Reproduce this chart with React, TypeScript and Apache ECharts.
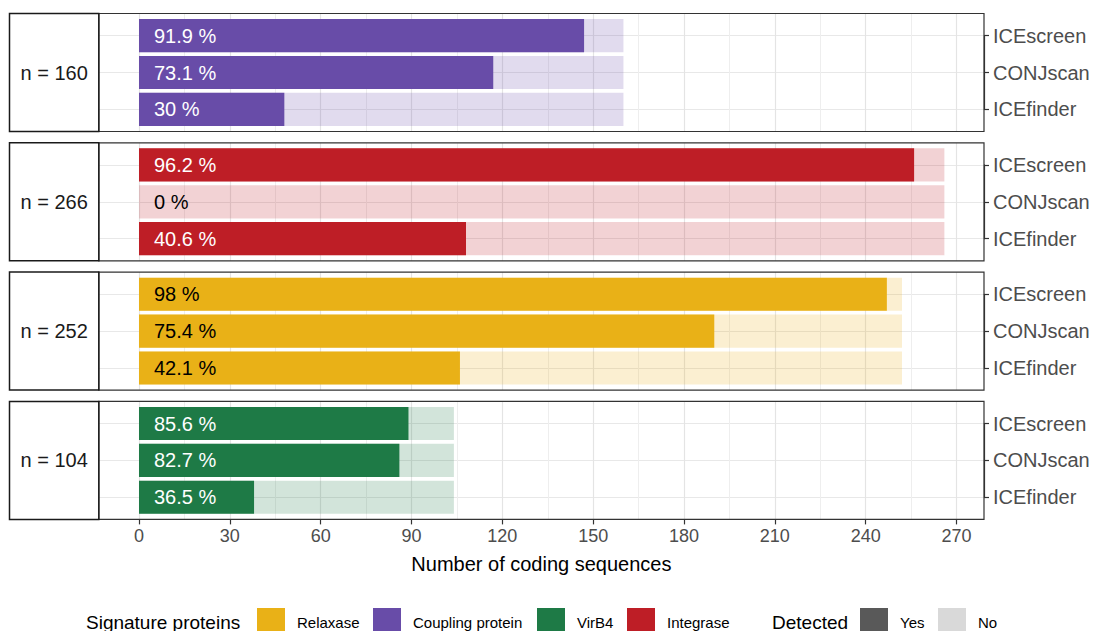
import React, { useEffect, useRef } from "react";
import * as echarts from "echarts";

// ---------------- data ----------------
const tools = ["ICEscreen", "CONJscan", "ICEfinder"];
const panelProteins = ["Coupling protein", "Integrase", "Relaxase", "VirB4"];
const panelTotals = [160, 266, 252, 104];
const couplingDetected = [147, 117, 48];
const integraseDetected = [256, 0, 108];
const relaxaseDetected = [247, 190, 106];
const virb4Detected = [89, 86, 38];
const panelDetected = [couplingDetected, integraseDetected, relaxaseDetected, virb4Detected];

const xAxisMin = 0;
const xAxisMax = 270;
const xAxisStep = 30;
const xAxisTitle = "Number of coding sequences";

const legendProteinTitle = "Signature proteins";
const legendProteins = ["Relaxase", "Coupling protein", "VirB4", "Integrase"];
const legendDetectedTitle = "Detected";
const detectedLevels = ["Yes", "No"];

// ---------------- styles ----------------
const proteinColors: Record<string, string> = {
  Relaxase: "#e9b117",
  "Coupling protein": "#684ca8",
  VirB4: "#1e7a46",
  Integrase: "#be1e26",
};
const detectedColors: Record<string, string> = { Yes: "#595959", No: "#d9d9d9" };
const darkLabelProteins = ["Relaxase"];
const FONT = '"Liberation Sans", Arial, Helvetica, sans-serif';

const PANEL_TOP0 = 13.5;
const PANEL_STEP = 129.3;
const PANEL_H = 118;
const PANEL_L = 98.8;
const PANEL_R = 984;
const X0 = 139;
const X270 = 956.5;
const STRIP_L = 9.5;

function pctLabel(v: number, n: number) {
  const p = Math.round((v / n) * 1000) / 10;
  return `${p} %`;
}

function buildOption() {
  const pxPerUnit = (X270 - X0) / (xAxisMax - xAxisMin);
  const aMin = -(X0 - PANEL_L) / pxPerUnit;
  const aMax = (PANEL_R - X0) / pxPerUnit;
  const innerOffset = (PANEL_H * 0.6) / 3.2;
  const innerH = (PANEL_H * 2) / 3.2;
  const barW = (PANEL_H * 0.9) / 3.2;

  const grid: any[] = [];
  const xAxis: any[] = [];
  const yAxis: any[] = [];
  const series: any[] = [];
  const graphic: any[] = [];

  panelProteins.forEach((prot, i) => {
    const top = PANEL_TOP0 + i * PANEL_STEP;
    const gA = 2 * i;
    const gB = 2 * i + 1;
    const n = panelTotals[i];
    const det = panelDetected[i];
    const color = proteinColors[prot];
    const isLast = i === panelProteins.length - 1;

    grid.push({
      left: PANEL_L,
      width: PANEL_R - PANEL_L,
      top: top + innerOffset,
      height: innerH,
      containLabel: false,
      outerBoundsMode: "none",
    });
    grid.push({
      left: X0,
      width: X270 - X0,
      top: top,
      height: PANEL_H,
      containLabel: false,
      outerBoundsMode: "none",
    });

    xAxis.push({
      gridIndex: gA,
      type: "value",
      min: aMin,
      max: aMax,
      show: false,
    });
    yAxis.push({
      gridIndex: gA,
      type: "category",
      data: tools,
      inverse: true,
      boundaryGap: false,
      position: "right",
      axisLine: { show: true, onZero: false, lineStyle: { color: "#333333", width: 1.2 } },
      axisTick: { show: true, inside: false, length: 5, lineStyle: { color: "#333333", width: 1.2 } },
      axisLabel: { margin: 9, fontSize: 20, color: "#4d4d4d", fontFamily: FONT },
      splitLine: { show: true, lineStyle: { color: "#e8e8e8", width: 1.2 } },
    });

    xAxis.push({
      gridIndex: gB,
      type: "value",
      min: xAxisMin,
      max: xAxisMax,
      interval: xAxisStep,
      axisLine: { show: isLast, onZero: false, lineStyle: { color: "#333333", width: 1.2 } },
      axisTick: { show: isLast, inside: false, length: 5, lineStyle: { color: "#333333", width: 1.2 } },
      axisLabel: { show: isLast, fontSize: 18, color: "#4d4d4d", margin: 8, fontFamily: FONT },
      splitLine: { show: true, lineStyle: { color: "#e4e4e4", width: 1.2 } },
      minorTick: { show: false, splitNumber: 2 },
      minorSplitLine: { show: true, lineStyle: { color: "#eeeeee", width: 1 } },
    });
    yAxis.push({ gridIndex: gB, type: "value", min: 0, max: 1, show: false });

    series.push({
      type: "bar",
      xAxisIndex: gA,
      yAxisIndex: gA,
      data: tools.map(() => n),
      barWidth: barW,
      barGap: "-100%",
      clip: false,
      silent: true,
      itemStyle: { color: color, opacity: 0.2 },
    });
    series.push({
      type: "bar",
      xAxisIndex: gA,
      yAxisIndex: gA,
      data: det.map((v) => (v === 0 ? { value: v, itemStyle: { opacity: 0 } } : v)),
      barWidth: barW,
      barGap: "-100%",
      clip: false,
      silent: true,
      itemStyle: { color: color, borderWidth: 0 },
    });
    series.push({
      type: "bar",
      xAxisIndex: gA,
      yAxisIndex: gA,
      data: tools.map((_, j) => ({
        value: n,
        label: {
          color: darkLabelProteins.includes(prot) || det[j] === 0 ? "#000000" : "#ffffff",
        },
      })),
      barWidth: barW,
      barGap: "-100%",
      clip: false,
      silent: true,
      itemStyle: { color: "rgba(0,0,0,0)" },
      label: {
        show: true,
        position: "insideLeft",
        distance: 15,
        fontSize: 20,
        fontFamily: FONT,
        textBorderWidth: 0,
        formatter: (p: any) => pctLabel(det[p.dataIndex], n),
      },
    });

    // panel border
    graphic.push({
      type: "rect",
      silent: true,
      z: 50,
      shape: { x: PANEL_L, y: top, width: PANEL_R - PANEL_L, height: PANEL_H },
      style: { fill: "none", stroke: "#333333", lineWidth: 1.2 },
    });
    // strip
    graphic.push({
      type: "rect",
      silent: true,
      z: 50,
      shape: { x: STRIP_L, y: top, width: PANEL_L - STRIP_L, height: PANEL_H },
      style: { fill: "#ffffff", stroke: "#1a1a1a", lineWidth: 1.5 },
    });
    graphic.push({
      type: "text",
      silent: true,
      z: 51,
      x: (STRIP_L + PANEL_L) / 2,
      y: top + PANEL_H / 2,
      style: {
        text: `n = ${n}`,
        font: `20px ${FONT}`,
        fill: "#1a1a1a",
        textAlign: "center",
        textVerticalAlign: "middle",
        align: "center",
        verticalAlign: "middle",
      },
    });
  });

  // x axis title
  graphic.push({
    type: "text",
    silent: true,
    x: (PANEL_L + PANEL_R) / 2,
    y: 564,
    style: {
      text: xAxisTitle,
      font: `20px ${FONT}`,
      fill: "#000000",
      textAlign: "center",
      textVerticalAlign: "middle",
      align: "center",
      verticalAlign: "middle",
    },
  });

  // legend
  const LEG_Y = 622;
  const KEY_TOP = 608;
  const KEY = 28;
  const txt = (text: string, x: number, size: number) => ({
    type: "text",
    silent: true,
    x,
    y: LEG_Y,
    style: {
      text,
      font: `${size}px ${FONT}`,
      fill: "#000000",
      textAlign: "left",
      textVerticalAlign: "middle",
      align: "left",
      verticalAlign: "middle",
    },
  });
  const key = (x: number, fill: string) => ({
    type: "rect",
    silent: true,
    shape: { x, y: KEY_TOP, width: KEY, height: KEY },
    style: { fill, stroke: "none" },
  });
  graphic.push(txt(legendProteinTitle, 86, 19));
  const protKeyX = [257, 373, 537, 627];
  legendProteins.forEach((p, k) => {
    graphic.push(key(protKeyX[k], proteinColors[p]));
    graphic.push(txt(p, protKeyX[k] + 40, 15));
  });
  graphic.push(txt(legendDetectedTitle, 772, 19));
  const detKeyX = [860, 938];
  detectedLevels.forEach((d, k) => {
    graphic.push(key(detKeyX[k], detectedColors[d]));
    graphic.push(txt(d, detKeyX[k] + 40, 15));
  });

  return {
    animation: false,
    backgroundColor: "#ffffff",
    textStyle: { fontFamily: FONT },
    grid,
    xAxis,
    yAxis,
    series,
    graphic,
  };
}

export default function App() {
  const ref = useRef<HTMLDivElement>(null);
  useEffect(() => {
    document.body.style.margin = "0";
    if (!ref.current) return;
    const chart = echarts.init(ref.current, undefined, { renderer: "svg" });
    chart.setOption(buildOption() as any);
    return () => chart.dispose();
  }, []);
  return <div ref={ref} style={{ width: 1101, height: 631 }} />;
}
